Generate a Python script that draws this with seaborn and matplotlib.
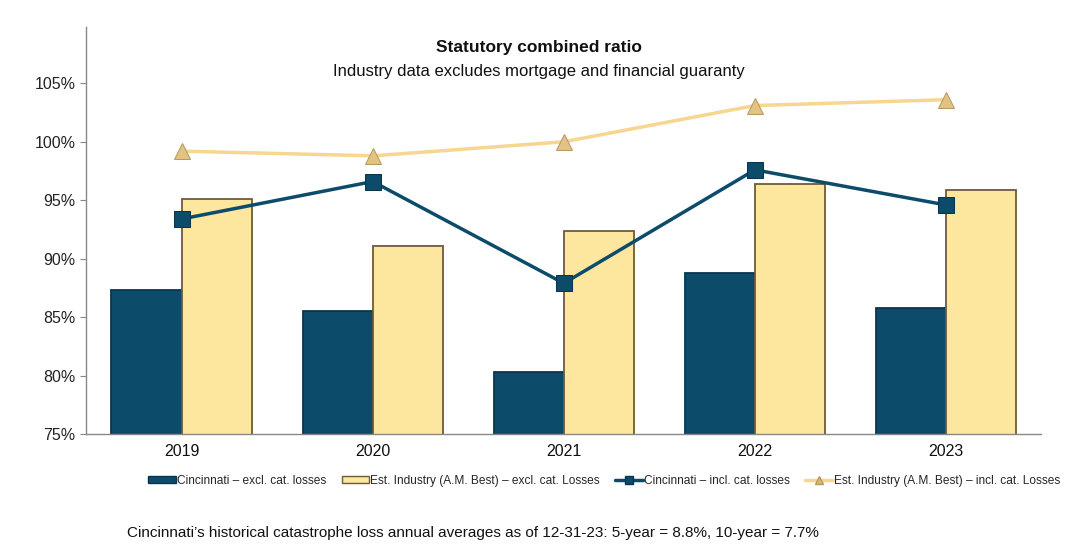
import numpy as np
import pandas as pd
import seaborn as sns
import matplotlib.pyplot as plt
from matplotlib.patches import Patch
from matplotlib.lines import Line2D

years = ["2019", "2020", "2021", "2022", "2023"]
cinf_excl = [87.3, 85.5, 80.3, 88.8, 85.8]
ind_excl = [95.1, 91.1, 92.4, 96.4, 95.9]
cinf_incl = [93.4, 96.6, 87.9, 97.6, 94.6]
ind_incl = [99.2, 98.8, 100.0, 103.1, 103.6]

bar_names = ["Cincinnati \u2013 excl. cat. losses", "Est. Industry (A.M. Best) \u2013 excl. cat. Losses"]
line_names = ["Cincinnati \u2013 incl. cat. losses", "Est. Industry (A.M. Best) \u2013 incl. cat. Losses"]

dark = "#0d4b6b"
dark_edge = "#083650"
light = "#fde69e"
light_edge = "#6e5a3a"
line_light = "#f6d690"

sns.set_style("white")
plt.rcParams["font.family"] = ["Liberation Sans", "DejaVu Sans"]

bars = pd.DataFrame({
    "year": years * 2,
    "value": cinf_excl + ind_excl,
    "series": [bar_names[0]] * 5 + [bar_names[1]] * 5,
})

fig = plt.figure(figsize=(10.77, 5.44), dpi=100)
ax = fig.add_axes([0.08, 0.202, 0.887, 0.748])

sns.barplot(data=bars, x="year", y="value", hue="series", order=years,
            palette=[dark, light], saturation=1, width=0.735, gap=0, ax=ax, legend=False)
for cont, ec in zip(ax.containers, [dark_edge, light_edge]):
    for p in cont:
        p.set_edgecolor(ec)
        p.set_linewidth(1.3)

pos = np.arange(len(years))
sns.lineplot(x=pos, y=cinf_incl, color=dark, lw=2.5, marker="s", markersize=12,
             markeredgecolor=dark_edge, ax=ax)
sns.lineplot(x=pos, y=ind_incl, color=line_light, lw=2.5, marker="^", markersize=12,
             markerfacecolor="#e2c383", markeredgecolor="#b89a60", ax=ax)

ax.set_ylim(75, 109.8)
ax.set_xlim(-0.5, 4.5)
ax.set_yticks([75, 80, 85, 90, 95, 100, 105])
ax.set_yticklabels([f"{v}%" for v in [75, 80, 85, 90, 95, 100, 105]])
ax.set_xlabel("")
ax.set_ylabel("")
ax.tick_params(axis="y", labelsize=11.5, left=True, length=4, color="#888888", labelcolor="#222222")
ax.tick_params(axis="x", labelsize=11.5, bottom=False, labelcolor="#111111")
for s in ["top", "right"]:
    ax.spines[s].set_visible(False)
for s in ["left", "bottom"]:
    ax.spines[s].set_color("#888888")
    ax.spines[s].set_linewidth(1)

fig.text(0.5, 0.913, "Statutory combined ratio", ha="center", va="center",
         fontsize=12.5, fontweight="bold", color="#111111")
fig.text(0.5, 0.868, "Industry data excludes mortgage and financial guaranty", ha="center",
         va="center", fontsize=12, color="#111111")

handles = [
    Patch(facecolor=dark, edgecolor=dark_edge, lw=1),
    Patch(facecolor=light, edgecolor=light_edge, lw=1),
    Line2D([], [], color=dark, lw=2.5, marker="s", markersize=6, markeredgecolor=dark_edge),
    Line2D([], [], color=line_light, lw=2.5, marker="^", markersize=6,
           markerfacecolor="#d9b970", markeredgecolor="#b89a60"),
]
ax.legend(handles, bar_names + line_names, loc="center", bbox_to_anchor=(0.561, 0.116),
          bbox_transform=fig.transFigure, ncol=4, frameon=False, fontsize=8.6,
          handlelength=2.3, handleheight=0.6, handletextpad=0.1, columnspacing=1.3)

fig.text(0.118, 0.02, "Cincinnati\u2019s historical catastrophe loss annual averages as of 12-31-23: "
         "5-year = 8.8%, 10-year = 7.7%", ha="left", va="center", fontsize=11, color="#111111")

fig.savefig("out.png", dpi=100)
